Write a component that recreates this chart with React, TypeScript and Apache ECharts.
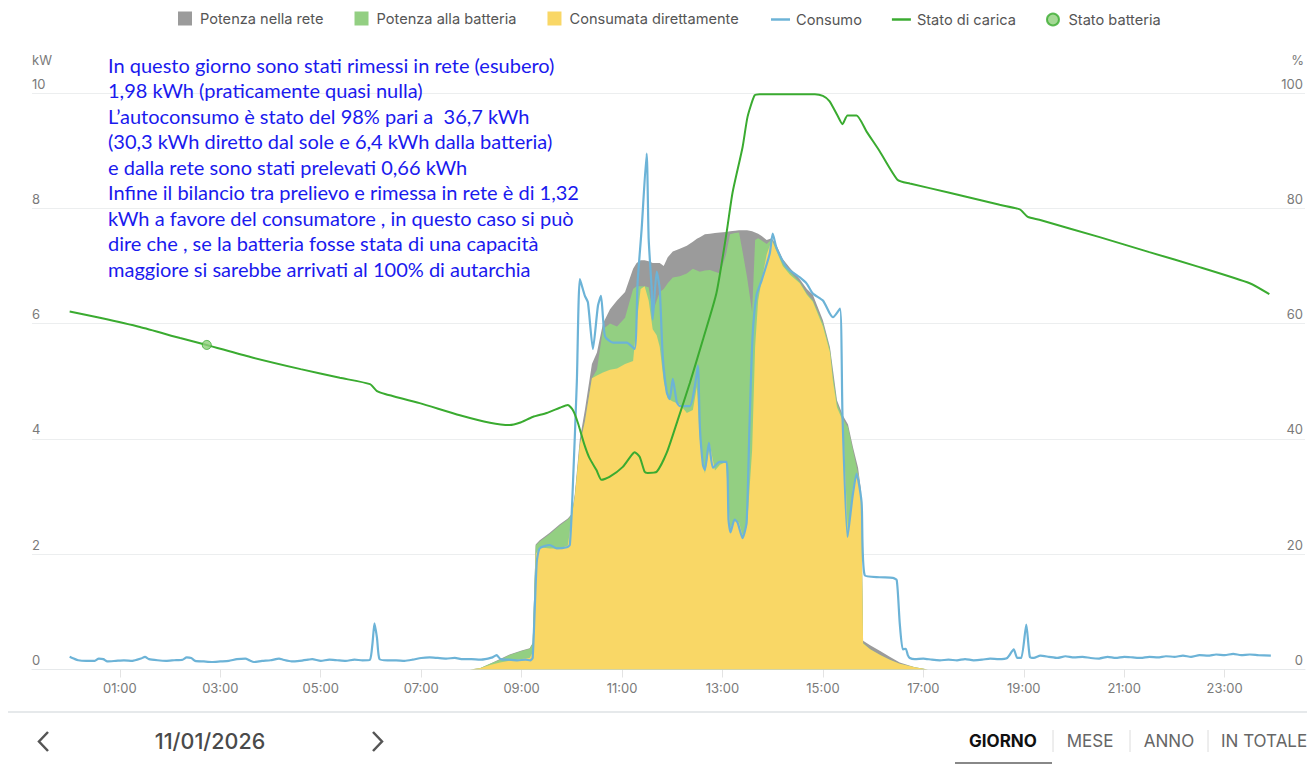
import React, { useEffect, useRef } from "react";
import * as echarts from "echarts";

// ---- DATA ----
const hourTicks = [1, 3, 5, 7, 9, 11, 13, 15, 17, 19, 21, 23];

const solarTimes = [7.97, 8.17, 8.37, 8.57, 8.76, 9.0, 9.16, 9.22, 9.28, 9.36, 9.56, 9.76, 9.92, 10.0, 10.06, 10.16, 10.26, 10.4, 10.5, 10.62, 10.76, 10.9, 11.06, 11.22, 11.29, 11.37, 11.45, 11.53, 11.61, 11.69, 11.75, 11.83, 11.91, 12.01, 12.15, 12.29, 12.41, 12.49, 12.55, 12.65, 12.75, 12.85, 12.95, 13.07, 13.15, 13.25, 13.33, 13.41, 13.49, 13.59, 13.65, 13.71, 13.78, 13.88, 13.98, 14.08, 14.2, 14.34, 14.54, 14.68, 14.8, 15.0, 15.14, 15.2, 15.28, 15.4, 15.5, 15.6, 15.7, 15.76, 15.8, 15.94, 16.14, 16.33, 16.53, 16.83, 17.09];

// Consumata direttamente (kW)
const directValues = [0, 0.02, 0.08, 0.12, 0.15, 0.18, 0.2, 0.3, 2.0, 2.12, 2.1, 2.1, 2.15, 2.65, 3.0, 3.9, 4.3, 5.05, 5.1, 5.15, 5.2, 5.22, 5.3, 5.35, 6.0, 6.6, 6.65, 6.4, 5.9, 5.8, 5.6, 5.0, 4.7, 4.65, 4.6, 4.45, 4.5, 4.9, 3.98, 3.4, 3.9, 3.45, 3.55, 3.6, 2.45, 2.6, 2.55, 2.3, 2.5, 3.8, 5.6, 6.4, 6.75, 7.2, 7.45, 7.25, 7.0, 6.85, 6.7, 6.5, 6.38, 5.95, 5.5, 5.0, 4.55, 4.3, 2.3, 3.17, 3.4, 3.0, 0.45, 0.35, 0.25, 0.17, 0.1, 0.04, 0];

// Potenza alla batteria (kW)
const batteryValues = [0, 0, 0.02, 0.05, 0.1, 0.14, 0.16, 0.15, 0.15, 0.1, 0.25, 0.4, 0.45, 0.03, 0, 0, 0, 0, 0.1, 0.75, 0.8, 0.73, 0.8, 1.25, 0.65, 0.05, 0, 0.23, 0.3, 0.6, 0.95, 1.6, 2.0, 2.15, 2.22, 2.42, 2.45, 2.02, 2.92, 3.52, 3.03, 3.45, 3.32, 3.6, 5.1, 4.97, 5.03, 4.9, 4.3, 2.4, 1.85, 1.08, 0.69, 0.18, 0.01, 0.05, 0.05, 0.05, 0.02, 0.02, 0.02, 0.05, 0.05, 0.1, 0.07, 0.05, 1.9, 0.63, 0, 0, 0.01, 0, 0, 0, 0, 0, 0];

// Potenza nella rete (kW)
const gridValues = [0, 0, 0, 0.01, 0.01, 0.01, 0.01, 0.01, 0.02, 0.02, 0.02, 0.02, 0.02, 0.02, 0.05, 0.1, 0.2, 0.25, 0.3, 0.1, 0.25, 0.45, 0.45, 0.35, 0.4, 0.45, 0.45, 0.45, 0.85, 0.65, 0.5, 0.4, 0.45, 0.45, 0.48, 0.48, 0.47, 0.55, 0.6, 0.63, 0.63, 0.67, 0.71, 0.39, 0.05, 0.04, 0.04, 0.42, 0.82, 1.4, 0.13, 0.08, 0.08, 0.07, 0.02, 0.05, 0.07, 0.07, 0.05, 0.08, 0.1, 0.06, 0.04, 0.1, 0.05, 0.05, 0.05, 0.05, 0.1, 0.1, 0.04, 0.07, 0.07, 0.05, 0.02, 0, 0];

// Consumo (kW)
const consumoTimes = [0.0, 0.08, 0.17, 0.33, 0.5, 0.58, 0.67, 0.75, 0.92, 1.08, 1.25, 1.42, 1.5, 1.58, 1.75, 1.92, 2.08, 2.25, 2.33, 2.42, 2.5, 2.67, 2.83, 3.0, 3.17, 3.33, 3.5, 3.58, 3.67, 3.83, 4.0, 4.17, 4.25, 4.42, 4.58, 4.75, 4.83, 5.0, 5.17, 5.33, 5.5, 5.67, 5.83, 5.98, 6.03, 6.07, 6.12, 6.17, 6.33, 6.5, 6.67, 6.83, 7.0, 7.17, 7.33, 7.5, 7.67, 7.83, 8.0, 8.17, 8.33, 8.42, 8.5, 8.58, 8.75, 8.92, 9.08, 9.17, 9.22, 9.3, 9.36, 9.56, 9.7, 9.9, 9.96, 10.02, 10.1, 10.16, 10.26, 10.32, 10.42, 10.52, 10.58, 10.66, 10.82, 11.09, 11.25, 11.31, 11.39, 11.49, 11.53, 11.59, 11.61, 11.69, 11.75, 11.81, 11.89, 11.95, 12.01, 12.09, 12.15, 12.35, 12.45, 12.51, 12.55, 12.61, 12.65, 12.73, 12.81, 12.94, 13.08, 13.12, 13.16, 13.24, 13.3, 13.4, 13.48, 13.54, 13.6, 13.68, 13.78, 13.94, 14.0, 14.08, 14.28, 14.54, 14.68, 14.8, 15.0, 15.14, 15.2, 15.34, 15.39, 15.49, 15.59, 15.67, 15.77, 15.83, 16.13, 16.39, 16.47, 16.53, 16.59, 16.65, 16.69, 16.73, 16.83, 17.0, 17.17, 17.33, 17.5, 17.67, 17.83, 18.0, 18.17, 18.33, 18.5, 18.67, 18.8, 18.87, 18.95, 19.05, 19.12, 19.2, 19.33, 19.5, 19.67, 19.83, 20.0, 20.17, 20.33, 20.5, 20.67, 20.83, 21.0, 21.17, 21.33, 21.5, 21.67, 21.83, 22.0, 22.17, 22.33, 22.5, 22.67, 22.83, 23.0, 23.17, 23.33, 23.5, 23.67, 23.92];
const consumoValues = [0.22, 0.19, 0.16, 0.15, 0.15, 0.19, 0.18, 0.14, 0.15, 0.16, 0.15, 0.19, 0.22, 0.18, 0.16, 0.15, 0.16, 0.17, 0.21, 0.2, 0.15, 0.14, 0.13, 0.14, 0.15, 0.18, 0.19, 0.16, 0.13, 0.15, 0.16, 0.19, 0.17, 0.14, 0.15, 0.17, 0.18, 0.15, 0.17, 0.16, 0.15, 0.17, 0.16, 0.17, 0.45, 0.8, 0.55, 0.18, 0.16, 0.16, 0.15, 0.17, 0.2, 0.21, 0.2, 0.19, 0.2, 0.18, 0.18, 0.17, 0.19, 0.21, 0.25, 0.18, 0.17, 0.16, 0.17, 0.16, 0.2, 1.85, 2.1, 2.16, 2.1, 2.12, 2.16, 3.17, 5.0, 6.77, 6.48, 6.37, 5.56, 6.31, 6.48, 5.78, 5.67, 5.67, 5.56, 6.72, 7.64, 8.95, 7.47, 6.6, 6.07, 6.9, 6.6, 5.44, 4.81, 4.69, 5.04, 4.64, 4.57, 4.57, 4.92, 5.27, 4.2, 3.55, 3.46, 3.93, 3.5, 3.6, 3.6, 2.6, 2.38, 2.6, 2.55, 2.28, 2.55, 4.3, 5.8, 6.5, 6.75, 7.21, 7.56, 7.3, 6.97, 6.8, 6.69, 6.52, 6.4, 6.17, 6.11, 6.26, 4.4, 2.3, 3.0, 3.4, 2.9, 1.64, 1.6, 1.59, 1.55, 0.8, 0.35, 0.36, 0.25, 0.2, 0.18, 0.19, 0.17, 0.16, 0.17, 0.16, 0.18, 0.16, 0.17, 0.19, 0.18, 0.2, 0.35, 0.2, 0.2, 0.78, 0.22, 0.2, 0.24, 0.22, 0.2, 0.23, 0.21, 0.22, 0.2, 0.19, 0.22, 0.2, 0.22, 0.21, 0.2, 0.22, 0.21, 0.23, 0.22, 0.24, 0.22, 0.25, 0.24, 0.26, 0.25, 0.27, 0.25, 0.26, 0.25, 0.24];

// Stato di carica (%)
const socTimes = [0.0, 0.6, 1.4, 2.2, 2.73, 3.6, 4.6, 5.38, 5.98, 6.12, 6.28, 6.97, 7.77, 8.37, 8.76, 8.96, 9.22, 9.5, 9.76, 9.92, 10.02, 10.12, 10.25, 10.35, 10.49, 10.59, 10.75, 11.01, 11.19, 11.25, 11.35, 11.45, 11.51, 11.69, 11.89, 12.11, 12.35, 12.61, 12.88, 13.08, 13.2, 13.4, 13.5, 13.64, 13.74, 14.84, 15.0, 15.13, 15.29, 15.39, 15.49, 15.67, 15.87, 16.13, 16.49, 16.73, 17.52, 18.52, 18.92, 19.08, 19.31, 20.51, 21.5, 22.5, 23.5, 23.89];
const socValues = [62.1, 61.0, 59.4, 57.5, 56.3, 54.2, 52.1, 50.6, 49.5, 48.3, 47.8, 46.2, 44.1, 42.8, 42.4, 42.8, 43.8, 44.5, 45.4, 45.9, 45.0, 42.8, 39.0, 36.7, 34.6, 32.9, 33.4, 35.1, 37.2, 37.7, 36.9, 34.3, 34.1, 34.3, 37.6, 43.3, 49.7, 57.2, 65.3, 75.7, 82.7, 90.6, 95.9, 99.6, 99.8, 99.8, 99.5, 98.6, 96.1, 94.6, 96.1, 96.1, 93.3, 89.9, 84.9, 84.3, 82.7, 80.6, 79.8, 78.5, 78.0, 75.0, 72.4, 69.8, 67.0, 65.1];

// Stato batteria (marker)
const batteryMarkerTime = [2.73];
const batteryMarkerValue = [56.3];

const noteLines = [
  "In questo giorno sono stati rimessi in rete (esubero)",
  "1,98 kWh (praticamente quasi nulla)",
  "L\u2019autoconsumo è stato del 98% pari a  36,7 kWh",
  "(30,3 kWh diretto dal sole e 6,4 kWh dalla batteria)",
  "e dalla rete sono stati prelevati 0,66 kWh",
  "Infine il bilancio tra prelievo e rimessa in rete è di 1,32",
  "kWh a favore del consumatore , in questo caso si può",
  "dire che , se la batteria fosse stata di una capacità",
  "maggiore si sarebbe arrivati al 100% di autarchia",
];

const tabs = ["GIORNO", "MESE", "ANNO", "IN TOTALE"];
const dateLabel = "11/01/2026";

const C_GRID = "#9b9b9b";
const C_BATT = "#93cf82";
const C_DIRECT = "#f9d766";
const C_CONS = "#6cb3d7";
const C_SOC = "#3aab30";
const FONT = "Inter, 'Noto Sans', sans-serif";
const LINE_ICON = "path://M0,0h20v2.6h-20z";

export default function App() {
  const ref = useRef<HTMLDivElement>(null);
  useEffect(() => {
    if (!ref.current) return;
    const chart = echarts.init(ref.current, null, { renderer: "svg" });
    const pair = (ts: number[], vs: number[]) => ts.map((t, i) => [t, vs[i]]);
    // Stack the three production layers (direct at the bottom, battery, then grid on top).
    const layers = [directValues, batteryValues, gridValues];
    const stacked = (upTo: number) =>
      solarTimes.map((t, i) => {
        let s = 0;
        for (let k = 0; k <= upTo; k++) s += layers[k][i];
        return [t, +s.toFixed(3)];
      });
    const areaSeries = (name: string, color: string, level: number) => ({
      name,
      type: "line",
      data: stacked(level),
      showSymbol: false,
      symbol: "none",
      lineStyle: { width: 0, color },
      itemStyle: { color },
      areaStyle: { color, opacity: 1 },
      z: 2,
    });
    const option: any = {
      animation: false,
      textStyle: { fontFamily: FONT },
      grid: { left: 32, right: 2, top: 93, bottom: 94.5, containLabel: false },
      legend: [
        {
          data: ["Potenza nella rete", "Potenza alla batteria", "Consumata direttamente"],
          left: 178,
          top: 11,
          padding: 0,
          icon: "rect",
          itemWidth: 14,
          itemHeight: 14,
          itemGap: 31,
          textStyle: { fontFamily: FONT, fontSize: 14.6, color: "#555", padding: [0, 0, 0, 3] },
        },
        {
          data: [
            { name: "Consumo", icon: LINE_ICON },
            { name: "Stato di carica", icon: LINE_ICON },
            { name: "Stato batteria" },
          ],
          left: 771,
          top: 12,
          padding: 0,
          itemWidth: 19,
          itemHeight: 12,
          itemGap: 30,
          textStyle: { fontFamily: FONT, fontSize: 14.6, color: "#555", padding: [0, 0, 0, 1] },
        },
      ],
      xAxis: {
        type: "value",
        min: -0.75,
        max: 24.6,
        splitLine: { show: false },
        axisLine: { show: true, lineStyle: { color: "#e6e9eb", width: 1 } },
        axisTick: { show: true, customValues: hourTicks, length: 8, lineStyle: { color: "#e3e3e3" } },
        axisLabel: {
          customValues: hourTicks,
          formatter: (v: number) => (v < 10 ? "0" : "") + v + ":00",
          color: "#7a7a7a",
          fontSize: 13,
          margin: 12,
          fontFamily: FONT,
        },
      },
      yAxis: [
        {
          type: "value",
          min: 0,
          max: 10,
          interval: 2,
          position: "left",
          axisLine: { show: false },
          axisTick: { show: false },
          splitLine: { lineStyle: { color: "#eceeef", width: 1 } },
          axisLabel: { inside: true, margin: 0, verticalAlign: "bottom", padding: [0, 0, 3, 0], color: "#7a7a7a", fontSize: 13, fontFamily: FONT },
        },
        {
          type: "value",
          min: 0,
          max: 100,
          interval: 20,
          position: "right",
          axisLine: { show: false },
          axisTick: { show: false },
          splitLine: { show: false },
          axisLabel: { inside: true, margin: 2, verticalAlign: "bottom", padding: [0, 0, 3, 0], color: "#7a7a7a", fontSize: 13, fontFamily: FONT },
        },
      ],
      series: [
        areaSeries("Potenza nella rete", C_GRID, 2),
        areaSeries("Potenza alla batteria", C_BATT, 1),
        areaSeries("Consumata direttamente", C_DIRECT, 0),
        {
          name: "Consumo",
          type: "line",
          data: pair(consumoTimes, consumoValues),
          showSymbol: false,
          symbol: "none",
          smooth: 0.2,
          lineStyle: { width: 2.2, color: C_CONS },
          itemStyle: { color: C_CONS },
          z: 3,
        },
        {
          name: "Stato di carica",
          type: "line",
          yAxisIndex: 1,
          data: pair(socTimes, socValues),
          showSymbol: false,
          symbol: "none",
          smooth: 0.2,
          lineStyle: { width: 2, color: C_SOC },
          itemStyle: { color: C_SOC },
          z: 4,
        },
        {
          name: "Stato batteria",
          type: "scatter",
          yAxisIndex: 1,
          data: pair(batteryMarkerTime, batteryMarkerValue),
          symbol: "circle",
          symbolSize: 9,
          itemStyle: { color: "#8fcf7c", borderColor: C_SOC, borderWidth: 1 },
          z: 5,
        },
      ],
      graphic: [
        { type: "text", x: 32, y: 53, style: { text: "kW", fill: "#7a7a7a", font: `13px ${FONT}` } },
        { type: "text", x: 1304, y: 53, style: { text: "%", fill: "#7a7a7a", font: `13px ${FONT}`, align: "right" } },
        {
          type: "text",
          x: 108,
          y: 52,
          z: 10,
          style: {
            text: noteLines.join("\n"),
            fill: "#1a1aee",
            font: `20px Lato, 'Open Sans', sans-serif`,
            lineHeight: 25.5,
          },
        },
        { type: "line", shape: { x1: 8, y1: 712, x2: 1307, y2: 712 }, style: { stroke: "#e6e9eb", lineWidth: 2 } },
        { type: "polyline", shape: { points: [[48, 732], [39, 741.5], [48, 751]] }, style: { stroke: "#555", lineWidth: 2.5, fill: null } },
        { type: "polyline", shape: { points: [[373, 732], [382, 741.5], [373, 751]] }, style: { stroke: "#555", lineWidth: 2.5, fill: null } },
        { type: "text", x: 210, y: 741, style: { text: dateLabel, fill: "#4a4a4a", font: `500 21.5px ${FONT}`, align: "center", verticalAlign: "middle" } },
        { type: "text", x: 1003, y: 741, style: { text: tabs[0], fill: "#111", font: `700 17px ${FONT}`, align: "center", verticalAlign: "middle" } },
        { type: "text", x: 1090, y: 741, style: { text: tabs[1], fill: "#666", font: `17px ${FONT}`, align: "center", verticalAlign: "middle" } },
        { type: "text", x: 1169, y: 741, style: { text: tabs[2], fill: "#666", font: `17px ${FONT}`, align: "center", verticalAlign: "middle" } },
        { type: "text", x: 1221, y: 741, style: { text: tabs[3], fill: "#666", font: `17px ${FONT}`, align: "left", verticalAlign: "middle" } },
        { type: "line", shape: { x1: 1053, y1: 730, x2: 1053, y2: 752 }, style: { stroke: "#dcdcdc", lineWidth: 1 } },
        { type: "line", shape: { x1: 1130, y1: 730, x2: 1130, y2: 752 }, style: { stroke: "#dcdcdc", lineWidth: 1 } },
        { type: "line", shape: { x1: 1208, y1: 730, x2: 1208, y2: 752 }, style: { stroke: "#dcdcdc", lineWidth: 1 } },
        { type: "line", shape: { x1: 955, y1: 763, x2: 1052, y2: 763 }, style: { stroke: "#888", lineWidth: 2 } },
      ],
    };
    chart.setOption(option);
    return () => chart.dispose();
  }, []);
  return (
    <div
      ref={ref}
      style={{ position: "fixed", left: 0, top: 0, width: 1307, height: 764, background: "#fff" }}
    />
  );
}
